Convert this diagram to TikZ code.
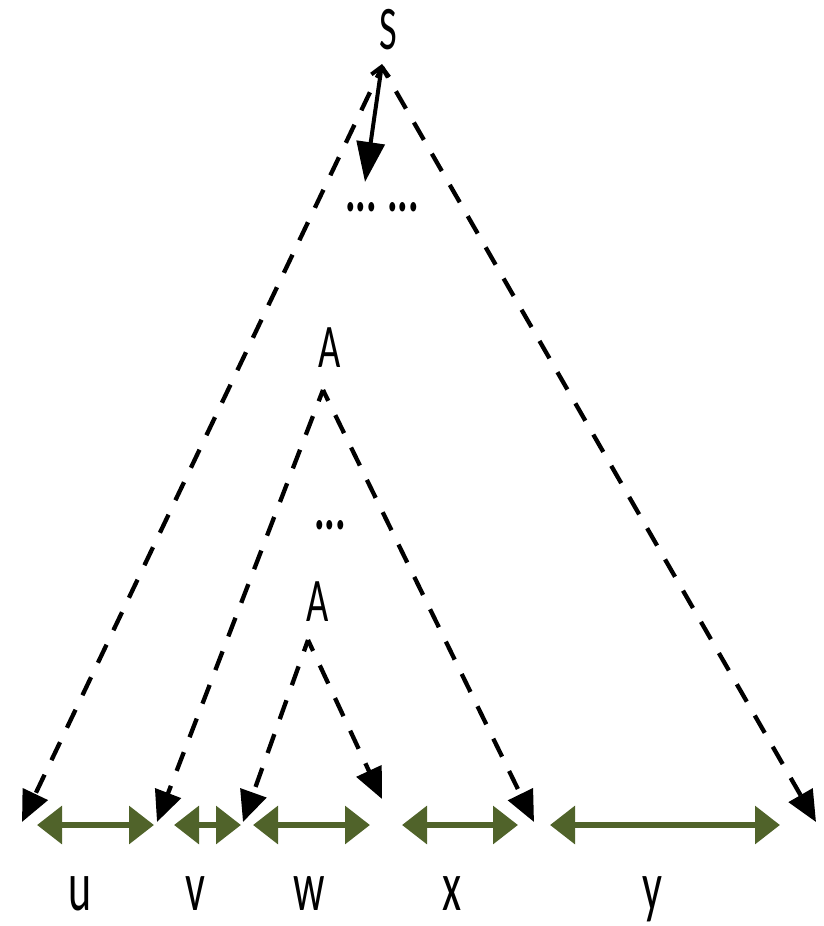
\documentclass[tikz,border=0pt]{standalone}
\usepackage{fontspec}
\setmainfont{Carlito}
\usetikzlibrary{arrows.meta}
\definecolor{olive}{RGB}{80,99,42}
\newcommand{\nar}[1]{\scalebox{0.62}[1]{#1}}
\begin{document}
\begin{tikzpicture}[x=1pt,y=-1pt,
  sym/.style={inner sep=0pt,font=\fontsize{62}{70}\selectfont},
  lab/.style={inner sep=0pt,anchor=base,font=\fontsize{71}{76}\selectfont},
  dots/.style={inner sep=0pt,font=\fontsize{64}{64}\selectfont\bfseries},
  derive/.style={line width=4.3pt,dash pattern=on 20pt off 16pt,dash phase=8pt,-{Triangle[length=31pt,width=27pt]}},
  span/.style={draw=olive,line width=6.5pt,{Triangle[length=25pt,width=37pt]}-{Triangle[length=25pt,width=37pt]}}]
\useasboundingbox (0,0) rectangle (823,926);
% symbols
\node[sym] (S) at (388,30) {\nar{S}};
\node[sym] (A1) at (330,348) {\nar{A}};
\node[sym] (A2) at (318,602) {\nar{A}};
\node[dots] (d1) at (382,207) {\nar{...}\hspace{10pt}\nar{...}};
\node[dots] (d2) at (330,525) {\nar{...}};
% apexes and ends
\coordinate (sa) at (382,67);
\coordinate (a1) at (323,390);
\coordinate (a2) at (308,640);
\coordinate (e0) at (22,822);
\coordinate (e1) at (157,822);
\coordinate (e2) at (243,822);
\coordinate (e3) at (382,799);
\coordinate (e4) at (534,822);
\coordinate (e5) at (816,822);
% derivation lines
\draw[derive] (sa) -- (e0);
\draw[derive] (sa) -- (e5);
\draw[derive] (a1) -- (e1);
\draw[derive] (a1) -- (e4);
\draw[derive] (a2) -- (e2);
\draw[derive] (a2) -- (e3);
\coordinate (st) at (382,64);
\coordinate (sb) at (365,182);
\draw[line width=4pt,{Straight Barb[length=9pt,width=18pt]}-{Triangle[length=40pt,width=28pt]}] (st) -- (sb);
% spans
\coordinate (u0) at (37,825); \coordinate (u1) at (154,825);
\coordinate (v0) at (174,825); \coordinate (v1) at (241,825);
\coordinate (w0) at (253,825); \coordinate (w1) at (370,825);
\coordinate (x0) at (402,825); \coordinate (x1) at (518,825);
\coordinate (y0) at (550,825); \coordinate (y1) at (780,825);
\draw[span] (u0) -- (u1);
\draw[span] (v0) -- (v1);
\draw[span] (w0) -- (w1);
\draw[span] (x0) -- (x1);
\draw[span] (y0) -- (y1);
% labels
\node[lab] (lu) at (80,910) {\nar{u}};
\node[lab] (lv) at (195,910) {\nar{v}};
\node[lab] (lw) at (309,910) {\nar{w}};
\node[lab] (lx) at (452,910) {\nar{x}};
\node[lab] (ly) at (652,910) {\nar{y}};
\end{tikzpicture}
\end{document}
